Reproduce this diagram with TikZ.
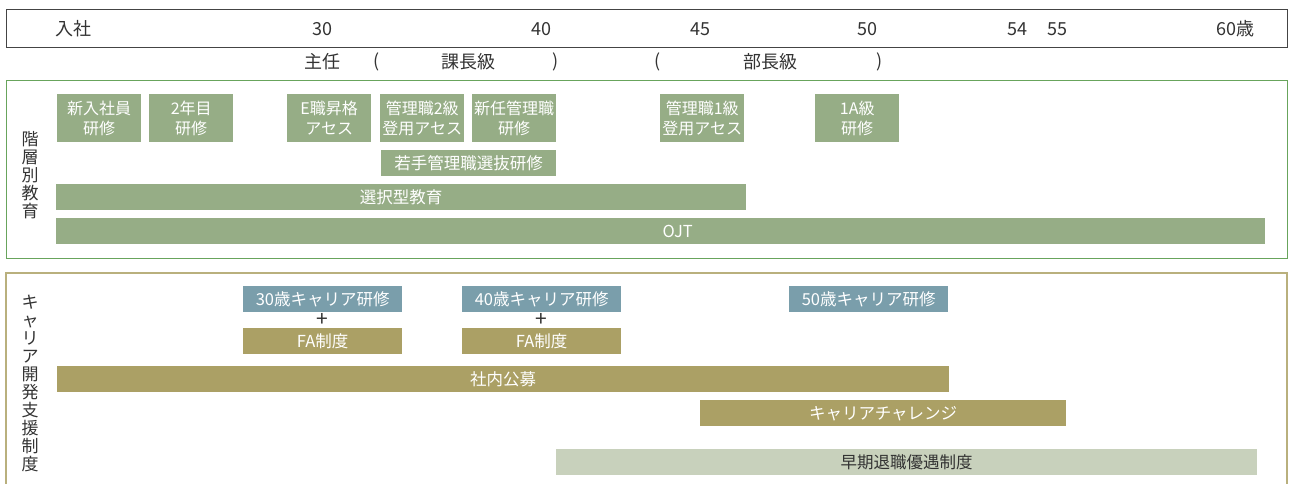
\documentclass[tikz,border=0pt]{standalone}
\usepackage{fontspec}
\setmainfont{Noto Sans CJK JP}

\definecolor{waku}{RGB}{68,68,68}
\definecolor{midori}{RGB}{104,164,92}
\definecolor{kgreen}{RGB}{150,173,134}
\definecolor{kwaku}{RGB}{185,176,125}
\definecolor{khaki}{RGB}{171,160,101}
\definecolor{aoi}{RGB}{122,158,171}
\definecolor{usui}{RGB}{200,209,188}
\definecolor{moji}{RGB}{51,51,51}

\tikzset{
  age/.style={text=moji, font=\fontsize{18}{20}\selectfont, inner sep=0pt},
  tate/.style={text=moji, font=\fontsize{17}{18}\selectfont, align=center, inner sep=0pt},
  kbox/.style={fill=kgreen, text=white, inner sep=0pt, anchor=north west,
    minimum width=84pt, minimum height=48pt, align=center,
    font=\fontsize{16}{20}\selectfont},
  kbar/.style={fill=kgreen, text=white, inner sep=0pt, anchor=north west,
    minimum height=26pt, font=\fontsize{16.5}{20}\selectfont},
  cbar/.style={kbar, fill=khaki},
  abar/.style={kbar, fill=aoi, minimum width=159pt},
  ubar/.style={kbar, fill=usui, text=moji},
  plus/.style={text=moji, font=\fontsize{21}{21}\selectfont, inner sep=0pt},
}

\begin{document}
\begin{tikzpicture}[x=1pt,y=-1pt]
  \useasboundingbox (0,0) rectangle (1289,484);

  % age scale
  \draw[waku] (6,9) rectangle (1287,47);
  \node[age] (nyusha) at (73,29) {入社};
  \node[age] (a30) at (322,29) {30};
  \node[age] (a40) at (541,29) {40};
  \node[age] (a45) at (700,29) {45};
  \node[age] (a50) at (867,29) {50};
  \node[age] (a54) at (1017,29) {54};
  \node[age] (a55) at (1057,29) {55};
  \node[age] (a60) at (1235,29) {60歳};
  \node[age] (shunin) at (322,62) {主任};
  \node[age] (lkacho) at (377,62) {(};
  \node[age] (kacho) at (468,62) {課長級};
  \node[age] (rkacho) at (556,62) {)};
  \node[age] (lbucho) at (658,62) {(};
  \node[age] (bucho) at (770,62) {部長級};
  \node[age] (rbucho) at (880,62) {)};

  % kaisobetsu kyoiku
  \draw[midori, line width=1pt] (6,81) rectangle (1287,258);
  \node[tate] (kaiso) at (30,175) {階\\層\\別\\教\\育};
  \node[kbox] (shinjin) at (57,94) {新入社員\\研修};
  \node[kbox] (ninen) at (149,94) {2年目\\研修};
  \node[kbox] (eshoku) at (287,94) {E職昇格\\アセス};
  \node[kbox] (kanri2) at (380,94) {管理職2級\\登用アセス};
  \node[kbox] (shinnin) at (472,94) {新任管理職\\研修};
  \node[kbox] (kanri1) at (660,94) {管理職1級\\登用アセス};
  \node[kbox] (ichia) at (815,94) {1A級\\研修};
  \node[kbar, minimum width=175pt] (wakate) at (381,150) {若手管理職選抜研修};
  \node[kbar, minimum width=690pt] (sentaku) at (56,184) {選択型教育};
  \node[kbar, minimum width=1209pt,
    label={[xshift=17pt, text=white, font=\fontsize{16.5}{20}\selectfont]center:OJT}] (ojt) at (56,218) {};

  % career kaihatsu shien
  \draw[kwaku, line width=1.2pt] (6,484) -- (6,273) -- (1287,273) -- (1287,484);
  \node[tate] (career) at (30,383) {キ\\ャ\\リ\\ア\\開\\発\\支\\援\\制\\度};
  \node[abar] (c30) at (243,286) {30歳キャリア研修};
  \node[plus] (p30) at (322,320) {+};
  \node[cbar, minimum width=159pt] (fa30) at (243,328) {FA制度};
  \node[abar] (c40) at (462,286) {40歳キャリア研修};
  \node[plus] (p40) at (541,320) {+};
  \node[cbar, minimum width=159pt] (fa40) at (462,328) {FA制度};
  \node[abar] (c50) at (789,286) {50歳キャリア研修};
  \node[cbar, minimum width=892pt] (koubo) at (57,366) {社内公募};
  \node[cbar, minimum width=366pt] (challenge) at (700,400) {キャリアチャレンジ};
  \node[ubar, minimum width=701pt] (souki) at (556,449) {早期退職優遇制度};
\end{tikzpicture}
\end{document}
